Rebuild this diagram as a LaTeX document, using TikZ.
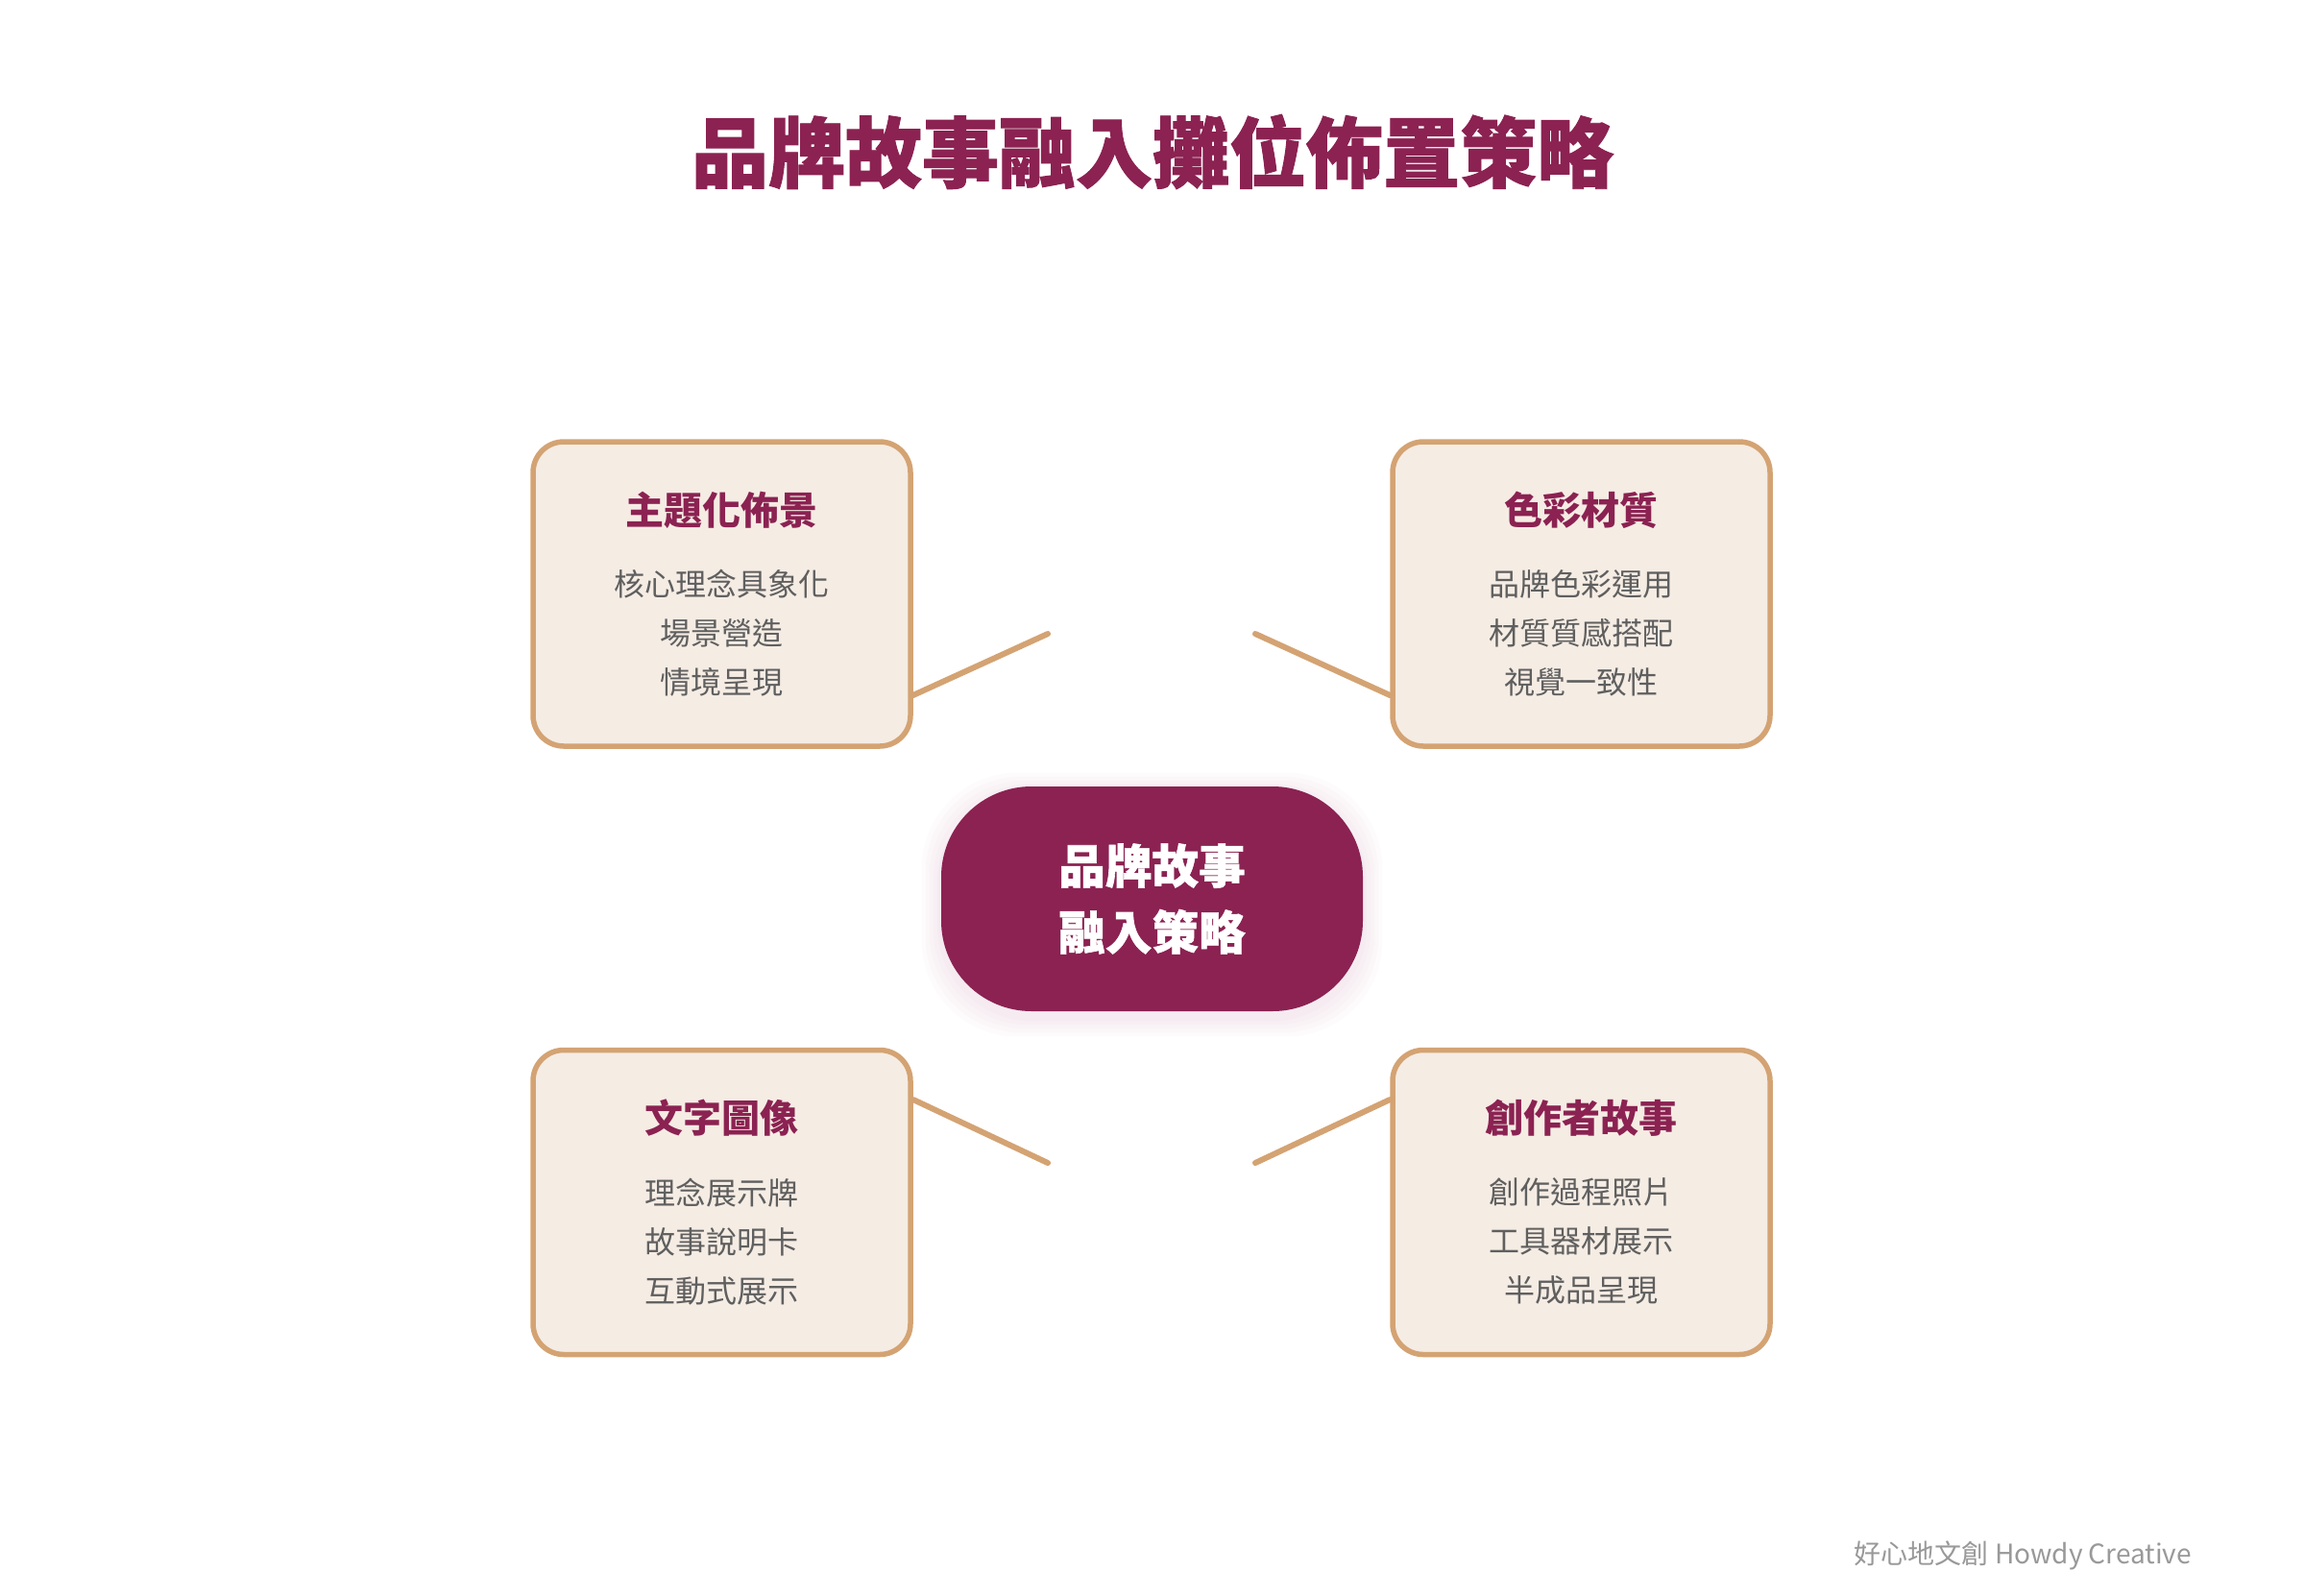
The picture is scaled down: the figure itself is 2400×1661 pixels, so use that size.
\documentclass[tikz,border=0pt]{standalone}
\usepackage{fontspec}
\setmainfont{Noto Sans CJK TC}
\newfontfamily\heavyfont{Noto Sans CJK TC}[BoldFeatures={FakeBold=1.2}]
\usetikzlibrary{positioning,backgrounds}

\definecolor{brandred}{HTML}{8B2252}
\definecolor{cardfill}{HTML}{F5ECE4}
\definecolor{cardline}{HTML}{D4A373}
\definecolor{bodygray}{HTML}{5F5F5F}
\definecolor{footgray}{HTML}{999999}

\tikzset{
  card/.style={draw=cardline, line width=2.75pt, fill=cardfill, rounded corners=16pt,
    minimum width=196.5pt, minimum height=158.5pt},
  cardhead/.style={text=brandred, font=\fontsize{20}{24}\selectfont\bfseries},
  cardbody/.style={text=bodygray, align=center, font=\fontsize{16}{25.5}\selectfont},
  hub/.style={fill=brandred, rounded corners=47pt, minimum width=219.5pt, minimum height=117pt,
    text=white, align=center, font=\heavyfont\fontsize{24.3}{34.5}\selectfont\bfseries},
  link/.style={draw=cardline, line width=3pt, line cap=round},
}

\begin{document}
\begin{tikzpicture}[x=0.5pt, y=-0.5pt]

    % Page frame (2400 x 1661 px)
    \useasboundingbox (0,0) rectangle (2400,1661);

    % Title
    \node[text=brandred, font=\heavyfont\fontsize{40}{44}\selectfont\bfseries] (title) at (1200,158) {品牌故事融入攤位佈置策略};

    % Central idea
    \node[hub] (hub) at (1199.5,936) {品牌故事\\融入策略};

    % Four cards
    \node[card] (tl) at (751.5,618.5) {};
    \node[card] (tr) at (1646.5,618.5) {};
    \node[card] (bl) at (751.5,1252) {};
    \node[card] (br) at (1646.5,1252) {};

    % Card headings
    \node[cardhead] (tlhead) at ([yshift=43.75pt]tl.center) {主題化佈景};
    \node[cardhead] (trhead) at ([yshift=43.75pt]tr.center) {色彩材質};
    \node[cardhead] (blhead) at ([yshift=43.75pt]bl.center) {文字圖像};
    \node[cardhead] (brhead) at ([yshift=43.75pt]br.center) {創作者故事};

    % Card items
    \node[cardbody] (tlbody) at ([yshift=-20.4pt]tl.center) {核心理念具象化\\場景營造\\情境呈現};
    \node[cardbody] (trbody) at ([yshift=-20.4pt]tr.center) {品牌色彩運用\\材質質感搭配\\視覺一致性};
    \node[cardbody] (blbody) at ([yshift=-20.4pt]bl.center) {理念展示牌\\故事說明卡\\互動式展示};
    \node[cardbody] (brbody) at ([yshift=-20.4pt]br.center) {創作過程照片\\工具器材展示\\半成品呈現};

    % Free ends of the connectors near the hub
    \coordinate (tlend) at (1091,660);
    \coordinate (trend) at (1307,660);
    \coordinate (blend) at (1091,1211);
    \coordinate (brend) at (1307,1211);

    % Connectors
    \draw[link] ([yshift=-52.75pt]tl.east) -- (tlend);
    \draw[link] ([yshift=-52.75pt]tr.west) -- (trend);
    \draw[link] ([yshift=53.5pt]bl.east) -- (blend);
    \draw[link] ([yshift=53.5pt]br.west) -- (brend);

    % Footer credit
    \node[anchor=east, text=footgray, font=\fontsize{14}{16}\selectfont] (credit) at (2289,1620) {好心地文創 Howdy Creative};

    % White page and soft glow under the hub
    \begin{scope}[on background layer]
        \fill[white] (0,0) rectangle (2400,1661);
        \foreach \g in {2,4,...,10}
            \fill[brandred, opacity=0.015, rounded corners=50pt]
                ([shift={(-\g pt,-\g pt-3pt)}]hub.south west) rectangle ([shift={(\g pt,\g pt-3pt)}]hub.north east);
    \end{scope}

\end{tikzpicture}
\end{document}
